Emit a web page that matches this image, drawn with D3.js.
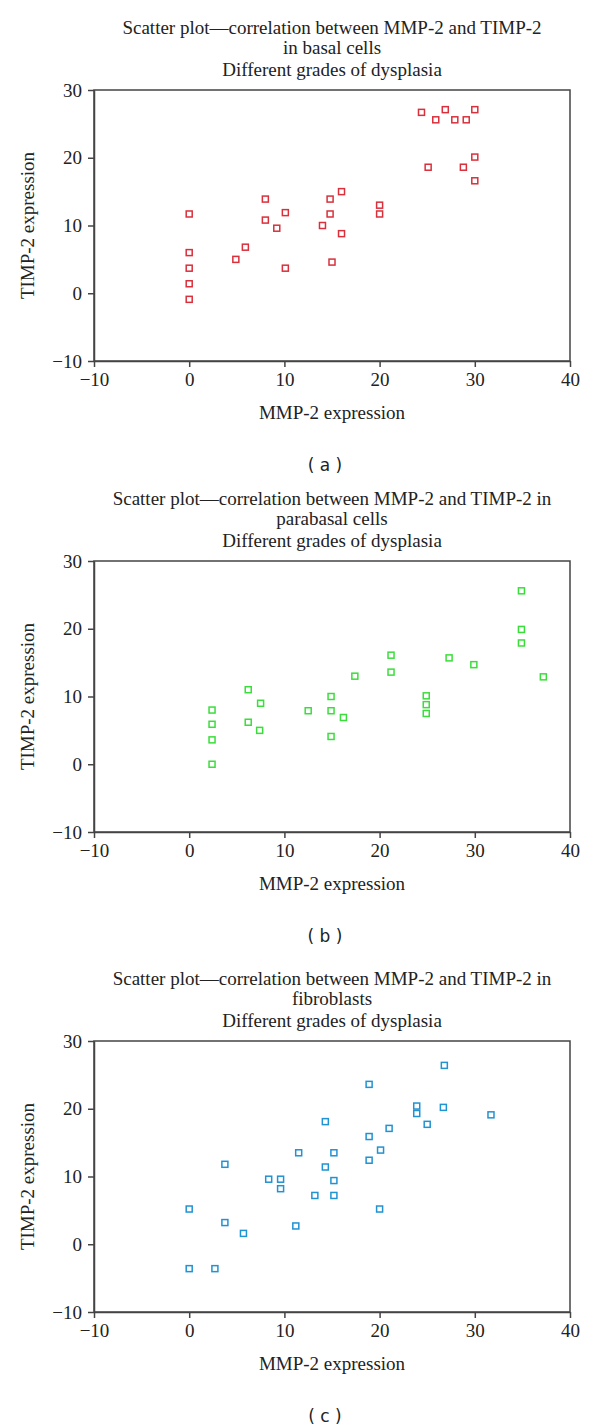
<!DOCTYPE html>
<html>
<head>
<meta charset="utf-8">
<script src="https://cdn.jsdelivr.net/npm/d3@7"></script>
<style>
  body { margin: 0; background: #fff; }
  svg text { font-family: "Liberation Serif", "Times New Roman", serif; fill: #222; }
</style>
</head>
<body>
<svg id="chart" width="600" height="1428"></svg>
<script>
// values
const basalX = [0, 0, 0, 0, 0, 4.9, 5.9, 8.0, 8.0, 9.2, 10.1, 10.1, 14.0, 14.8, 14.8, 15.0, 16.0, 16.0, 20.0, 20.0,
                24.4, 26.9, 25.9, 27.9, 29.1, 30.0, 25.1, 28.8, 30.0, 30.0];
const basalY = [11.7, 6.0, 3.7, 1.4, -0.9, 5.0, 6.8, 13.9, 10.8, 9.6, 11.9, 3.7, 10.0, 13.9, 11.7, 4.6, 15.0, 8.8, 13.0, 11.7,
                26.7, 27.1, 25.6, 25.6, 25.6, 27.1, 18.6, 18.6, 20.1, 16.6];

const parabasalX = [2.4, 2.4, 2.4, 2.4, 6.2, 7.5, 6.2, 7.4, 12.5, 14.9, 14.9, 14.9, 16.2, 17.4, 21.2, 21.2,
                    24.9, 24.9, 24.9, 27.3, 29.9, 34.9, 34.9, 34.9, 37.2];
const parabasalY = [8.0, 5.9, 3.6, 0.0, 11.0, 9.0, 6.2, 5.0, 7.9, 10.0, 7.9, 4.1, 6.9, 13.0, 16.1, 13.6,
                    10.1, 8.8, 7.5, 15.7, 14.7, 25.6, 19.9, 17.9, 12.9];

const fibroX = [0, 0, 2.7, 3.75, 3.75, 5.7, 8.35, 9.6, 9.6, 11.2, 11.5, 13.2, 14.3, 14.3, 15.2, 15.2, 15.2,
                20.0, 18.9, 18.9, 18.9, 20.1, 21.0, 23.9, 23.9, 25.0, 26.7, 26.8, 31.7];
const fibroY = [5.2, -3.6, -3.6, 11.8, 3.2, 1.6, 9.6, 9.6, 8.2, 2.7, 13.5, 7.2, 18.1, 11.4, 13.5, 9.4, 7.2,
                5.2, 23.6, 15.9, 12.4, 13.9, 17.1, 20.4, 19.3, 17.7, 20.2, 26.4, 19.1];

const xTicks = [-10, 0, 10, 20, 30, 40];
const yTicks = [-10, 0, 10, 20, 30];

const titles = [
    ["Scatter plot\u2014correlation between MMP-2 and TIMP-2", "in basal cells", "Different grades of dysplasia"],
    ["Scatter plot\u2014correlation between MMP-2 and TIMP-2 in", "parabasal cells", "Different grades of dysplasia"],
    ["Scatter plot\u2014correlation between MMP-2 and TIMP-2 in", "fibroblasts", "Different grades of dysplasia"]
];
const panelLabels = ["( a )", "( b )", "( c )"];
const xLabel = "MMP-2 expression";
const yLabel = "TIMP-2 expression";

const panels = [
    { xs: basalX, ys: basalY, color: "#d9303b", top: 90 },
    { xs: parabasalX, ys: parabasalY, color: "#3ade3a", top: 561 },
    { xs: fibroX, ys: fibroY, color: "#2192d2", top: 1041 }
];

const svg = d3.select("#chart");
const left = 94, right = 570, plotH = 271;
const axisColor = "#444";

const x = d3.scaleLinear().domain([-10, 40]).range([left, right]);

panels.forEach((p, i) => {
    let y = d3.scaleLinear().domain([-10, 30]).range([p.top + plotH, p.top]);
    let g = svg.append("g");

    // titles
    let titleY = [p.top - 56, p.top - 36, p.top - 14];
    titles[i].forEach((t, j) => {
        g.append("text")
            .attr("x", (left + right) / 2)
            .attr("y", titleY[j])
            .attr("text-anchor", "middle")
            .style("font-size", "19px")
            .text(t);
    });

    // frame
    g.append("rect")
        .attr("x", left)
        .attr("y", p.top)
        .attr("width", right - left)
        .attr("height", plotH)
        .attr("fill", "none")
        .attr("stroke", axisColor)
        .attr("stroke-width", 1.5);

    let xAxis = g.append("g")
        .attr("transform", `translate(0,${p.top + plotH})`)
        .call(d3.axisBottom(x).tickValues(xTicks).tickSize(6).tickSizeOuter(0).tickPadding(6));
    let yAxis = g.append("g")
        .attr("transform", `translate(${left},0)`)
        .call(d3.axisLeft(y).tickValues(yTicks).tickSize(6).tickSizeOuter(0).tickPadding(6));

    [xAxis, yAxis].forEach(a => {
        a.select(".domain").attr("stroke", axisColor).attr("stroke-width", 1.5);
        a.selectAll(".tick line").attr("stroke", axisColor).attr("stroke-width", 1.5);
        a.selectAll(".tick text")
            .style("font-family", '"Liberation Serif", serif')
            .style("font-size", "19px")
            .attr("fill", "#222");
    });

    g.append("text")
        .attr("x", (left + right) / 2)
        .attr("y", p.top + plotH + 58)
        .attr("text-anchor", "middle")
        .style("font-size", "19px")
        .text(xLabel);

    g.append("text")
        .attr("transform", `translate(34,${p.top + plotH / 2}) rotate(-90)`)
        .attr("text-anchor", "middle")
        .style("font-size", "19px")
        .text(yLabel);

    g.append("text")
        .attr("x", 325)
        .attr("y", p.top + plotH + 110)
        .attr("text-anchor", "middle")
        .style("font-family", '"DejaVu Sans", sans-serif')
        .style("font-size", "17px")
        .text(panelLabels[i]);

    // square markers
    g.selectAll("rect.pt")
        .data(p.xs.map((v, k) => [v, p.ys[k]]))
        .join("rect")
        .attr("class", "pt")
        .attr("x", d => x(d[0]) - 3)
        .attr("y", d => y(d[1]) - 3)
        .attr("width", 6)
        .attr("height", 6)
        .attr("fill", "none")
        .attr("stroke", p.color)
        .attr("stroke-width", 1.5);
});
</script>
</body>
</html>
